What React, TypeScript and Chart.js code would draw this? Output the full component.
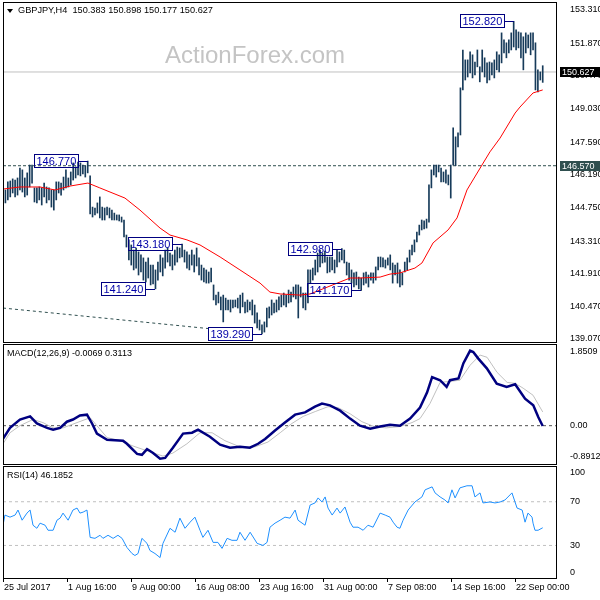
import React, { useEffect, useRef } from 'react';
import { Chart, registerables } from 'chart.js';

Chart.register(...registerables);

const FONT = '"Liberation Sans", Arial, sans-serif';

// ---------------- data ----------------
const HIGH = [
  145.09, 145.52, 145.87, 145.91, 146.00, 145.95, 146.04, 146.47, 146.39, 146.04,
  146.26, 146.60, 146.60, 145.61, 145.61, 145.65, 145.61, 145.82, 145.65, 145.61,
  145.52, 145.52, 145.87, 145.87, 145.82, 146.08, 146.39, 146.04, 146.30, 146.69,
  146.52, 146.73, 146.69, 146.60, 146.56, 146.77, 146.13, 144.78, 144.74, 144.96,
  145.22, 144.78, 144.74, 144.78, 144.74, 144.65, 144.52, 144.44, 144.44, 144.35,
  144.22, 143.57, 143.36, 143.14, 142.92, 143.01, 142.84, 142.71, 142.58, 142.40,
  142.58, 142.27, 142.27, 142.06, 142.40, 142.71, 142.58, 142.92, 143.01, 142.79,
  142.71, 142.92, 143.05, 143.01, 143.18, 142.92, 142.84, 142.71, 142.92, 142.71,
  143.01, 142.58, 142.27, 142.14, 142.06, 141.97, 142.14, 141.41, 140.97, 141.10,
  140.89, 140.97, 140.84, 140.76, 140.76, 140.76, 140.76, 140.84, 140.97, 141.06,
  140.67, 140.76, 140.67, 140.76, 140.54, 140.20, 139.89, 139.68, 139.81, 140.41,
  140.46, 140.76, 140.63, 140.76, 140.89, 140.97, 141.06, 140.97, 141.19, 141.10,
  141.32, 141.41, 141.41, 141.32, 141.06, 141.06, 142.06, 142.06, 142.14, 142.49,
  142.79, 142.92, 142.79, 142.88, 142.62, 142.62, 142.62, 142.49, 142.92, 142.84,
  142.98, 142.92, 142.40, 142.36, 142.06, 141.93, 141.97, 141.75, 141.71, 141.93,
  141.97, 141.84, 141.93, 141.93, 142.19, 142.62, 142.62, 142.58, 142.49, 142.58,
  142.71, 142.36, 142.27, 142.36, 142.06, 141.93, 142.40, 142.58, 142.92, 143.14,
  143.36, 143.70, 144.00, 144.22, 144.18, 144.26, 145.74, 146.39, 146.60, 146.60,
  146.60, 146.47, 146.30, 146.39, 146.17, 146.60, 148.21, 147.82, 147.99, 149.94,
  151.58, 151.15, 151.15, 151.50, 151.37, 151.06, 151.58, 150.85, 151.58, 151.24,
  151.02, 151.06, 151.02, 151.15, 151.50, 151.37, 152.32, 152.02, 151.89, 152.02,
  152.32, 152.82, 152.45, 152.36, 152.32, 152.15, 152.32, 152.23, 152.32, 152.32,
  151.89, 150.72, 150.63, 150.898,
];

const LOW = [
  144.44, 144.96, 145.09, 145.22, 145.39, 145.22, 145.30, 145.52, 145.43, 145.22,
  145.30, 145.65, 145.82, 145.00, 144.96, 145.09, 144.87, 145.22, 144.96, 145.09,
  144.78, 144.65, 145.09, 145.39, 145.30, 145.52, 145.61, 145.65, 145.74, 145.95,
  146.04, 146.17, 146.13, 146.21, 146.08, 146.26, 144.48, 144.35, 144.44, 144.52,
  144.31, 144.22, 144.22, 144.44, 144.31, 144.22, 144.22, 144.22, 144.18, 144.13,
  143.49, 143.05, 142.49, 142.27, 142.06, 142.14, 141.84, 141.97, 141.62, 141.54,
  141.71, 141.41, 141.45, 141.24, 141.62, 141.97, 141.80, 142.14, 142.40, 142.23,
  142.06, 142.27, 142.40, 142.58, 142.62, 142.40, 142.14, 142.06, 142.27, 141.97,
  142.23, 141.84, 141.62, 141.54, 141.49, 141.49, 141.54, 140.76, 140.54, 140.63,
  140.33, 139.81, 140.33, 140.33, 140.24, 140.41, 140.46, 140.41, 140.20, 140.46,
  140.20, 140.24, 140.33, 140.11, 139.76, 139.55, 139.46, 139.29, 139.37, 139.59,
  139.98, 140.11, 140.20, 140.24, 140.33, 140.46, 140.54, 140.46, 140.63, 140.67,
  140.89, 140.80, 139.98, 140.89, 140.41, 140.33, 140.63, 141.49, 141.62, 141.84,
  141.97, 142.19, 142.36, 142.40, 141.93, 141.97, 142.06, 141.93, 142.19, 142.40,
  142.49, 142.36, 141.84, 141.62, 141.49, 141.32, 141.41, 141.24, 141.17, 141.41,
  141.49, 141.32, 141.62, 141.49, 141.62, 142.06, 142.19, 142.19, 142.14, 142.27,
  142.06, 141.49, 141.84, 141.49, 141.32, 141.41, 141.97, 142.06, 142.40, 142.71,
  142.84, 143.27, 143.57, 143.79, 143.83, 143.87, 144.13, 145.61, 146.17, 146.08,
  146.30, 145.87, 145.87, 145.82, 145.74, 145.17, 146.60, 146.57, 147.38, 147.90,
  149.85, 150.28, 150.41, 150.59, 150.37, 150.50, 150.85, 150.20, 150.63, 150.41,
  150.15, 150.28, 150.50, 150.37, 150.72, 150.63, 151.02, 151.45, 151.24, 151.45,
  151.58, 151.71, 151.58, 151.67, 151.24, 150.72, 151.45, 151.67, 151.37, 151.58,
  149.85, 149.76, 150.28, 150.177,
];

// moving average (red), points [bar index, price]
const MA_POINTS = [
  [0, 145.56], [7, 145.65], [15.3, 145.65], [21.5, 145.52], [27.7, 145.69], [35.1, 145.82],
  [40, 145.61], [50.4, 145.17], [56.6, 144.65], [64.9, 143.87], [69, 143.57], [76, 143.36],
  [81.4, 143.14], [89.7, 142.62], [97.9, 142.06], [106.2, 141.49], [110.3, 141.10],
  [114.5, 141.02], [122.7, 140.97], [126.9, 141.02], [131, 141.19], [139.3, 141.54],
  [143.4, 141.71], [147.5, 141.71], [155.8, 141.75], [159.9, 141.88], [164, 141.93],
  [170.2, 142.14], [173.1, 142.36], [177.7, 143.23], [183.9, 143.79], [187.6, 144.31],
  [191.7, 145.52], [197.9, 146.60], [201.2, 147.17], [205.4, 147.77], [211.6, 148.85],
  [213.6, 149.11], [219, 149.72], [223, 149.85],
];

const MACD_POINTS = [
  [0, -0.30], [2.9, -0.05], [7, 0.14], [11.2, 0.21], [14, 0.05], [18.2, -0.05], [20.7, -0.09],
  [23.6, -0.05], [26.4, 0.09], [28.9, 0.14], [31.8, 0.23], [34.7, 0.25], [36.8, 0.05],
  [38.8, -0.18], [43, -0.32], [49.6, -0.34], [51.2, -0.41], [55.4, -0.64], [57.4, -0.66],
  [59.5, -0.53], [62, -0.62], [64.9, -0.75], [67, -0.73], [70.2, -0.50], [74.4, -0.18],
  [78.1, -0.16], [80.6, -0.09], [85.5, -0.25], [89.7, -0.43], [93.8, -0.50], [97.9, -0.48],
  [102, -0.50], [105.4, -0.41], [108.3, -0.30], [112.4, -0.11], [116.5, 0.07], [120.7, 0.25],
  [124.8, 0.30], [128.9, 0.43], [131.8, 0.50], [135.1, 0.46], [139.3, 0.34], [143.4, 0.16],
  [147.5, 0.00], [151.7, -0.07], [155.8, -0.02], [159.9, 0.02], [164, 0.00], [168.2, 0.16],
  [172.3, 0.41], [175.2, 0.75], [177.3, 1.10], [180.6, 1.03], [183.3, 0.88], [184.7, 1.03],
  [188.2, 1.07], [190.2, 1.41], [193, 1.70], [194.3, 1.67], [196.4, 1.52], [199.9, 1.30],
  [204, 0.95], [208.1, 0.88], [211.6, 0.94], [215.7, 0.61], [219.1, 0.46], [221.2, 0.19],
  [223, -0.0069],
];

const SIGNAL_POINTS = [
  [0, -0.41], [2.9, -0.16], [7, 0.00], [12.4, 0.14], [16.5, 0.07], [20.7, -0.05], [24.8, -0.05],
  [30.6, 0.07], [36, 0.18], [38.8, 0.00], [43, -0.27], [48.3, -0.34], [53.7, -0.46],
  [59.5, -0.57], [66.1, -0.69], [70.2, -0.62], [76, -0.41], [81.4, -0.16], [86.4, -0.16],
  [91.7, -0.34], [97.9, -0.48], [104.1, -0.48], [109.5, -0.37], [114.5, -0.16], [119.4, 0.05],
  [124, 0.21], [129, 0.32], [134.3, 0.43], [138.4, 0.41], [143.4, 0.27], [148.3, 0.09],
  [153.3, -0.02], [158.3, -0.05], [164, -0.02], [169, 0.07], [172.3, 0.16], [176.4, 0.50],
  [180.6, 0.98], [188.8, 1.03], [193, 1.37], [197.1, 1.60], [200, 1.55], [204.1, 1.21],
  [208.3, 0.98], [211.6, 0.96], [214.9, 0.85], [219, 0.69], [223, 0.3113],
];

const RSI_POINTS = [
  [0, 48.5], [0.8, 57.8], [2.9, 55.9], [5.0, 57.8], [6.2, 62.4], [7.9, 53.1], [9.9, 59.6],
  [11.2, 62.4], [12.4, 48.5], [14.0, 45.7], [15.3, 50.4], [17.4, 48.5], [18.6, 43.9],
  [20.7, 43.9], [22.3, 53.1], [23.6, 55.0], [24.8, 59.6], [26.9, 53.1], [28.9, 62.4],
  [30.6, 64.2], [31.8, 59.6], [33.1, 60.5], [34.7, 62.4], [36.0, 37.4], [38.0, 36.5],
  [40.1, 39.3], [41.3, 36.5], [43.4, 39.3], [45.5, 36.5], [47.5, 39.3], [49.2, 36.5],
  [51.2, 28.2], [53.3, 22.6], [54.5, 20.8], [55.8, 22.6], [57.4, 36.5], [59.5, 31.9],
  [60.7, 25.4], [62.8, 22.6], [64.9, 18.9], [66.1, 31.9], [69.0, 45.7], [71.1, 42.1],
  [73.1, 55.0], [75.2, 45.7], [77.3, 51.3], [79.3, 55.9], [81.4, 43.9], [82.6, 37.4],
  [84.7, 43.9], [86.8, 32.8], [88.8, 32.8], [90.5, 27.3], [92.6, 36.5], [94.6, 34.7],
  [96.7, 34.7], [97.9, 42.1], [100.0, 34.7], [102.1, 42.1], [105.0, 31.9], [107.4, 30.0],
  [109.1, 32.8], [110.3, 46.7], [112.4, 50.4], [114.5, 53.1], [116.5, 55.9], [118.6, 55.0],
  [120.7, 62.4], [121.9, 53.1], [124.8, 48.5], [126.9, 67.0], [128.9, 68.9], [130.2, 73.5],
  [131.8, 69.8], [133.1, 74.4], [134.3, 64.2], [136.0, 57.8], [138.0, 64.2], [139.3, 59.6],
  [141.3, 65.2], [143.4, 51.3], [144.6, 46.7], [146.7, 46.7], [148.8, 43.9], [150.8, 48.5],
  [152.9, 46.7], [155.8, 59.6], [157.9, 57.8], [159.9, 55.9], [161.2, 51.3], [162.8, 46.7],
  [164.0, 45.7], [165.3, 53.1], [167.4, 62.4], [170.2, 69.8], [173.1, 74.4], [174.4, 80.9],
  [177.3, 83.6], [178.5, 78.1], [180.6, 74.4], [182.6, 71.6], [183.9, 68.9], [185.5, 80.9],
  [186.8, 73.5], [188.8, 82.7], [191.7, 84.6], [193.8, 84.6], [195.0, 74.4], [197.1, 78.1],
  [198.3, 68.9], [201.2, 69.8], [203.3, 68.9], [205.4, 69.8], [207.4, 71.6], [210.3, 78.1],
  [212.4, 64.2], [214.5, 62.4], [215.7, 51.3], [216.9, 59.6], [218.6, 55.9], [219.0, 50.4],
  [219.8, 43.9], [221.1, 43.9], [223, 46.19],
];

// pivot labels
const LABEL_IDX = [35, 63, 74, 107, 140, 148, 211];
const LABEL_PRICE = [146.77, 141.24, 143.18, 139.29, 142.98, 141.17, 152.82];
const LABEL_TEXT = ['146.770', '141.240', '143.180', '139.290', '142.980', '141.170', '152.820'];

// lines
const BID = 150.627;
const LEVEL = 146.57;
const TREND_POINTS = [[0, 140.41], [86, 139.51]];
const TAG_PRICE = [150.627, 146.57];
const TAG_TEXT = ['150.627', '146.570'];
const TAG_COLOR = ['#000000', '#2f4f4f'];

// axes
const X_MIN = 0;
const X_MAX = 228.9;
const X_TICK_POS = [0, 26.45, 52.89, 79.34, 105.79, 132.23, 158.68, 185.12, 211.57];
const X_TICK_LABELS = ['25 Jul 2017', '1 Aug 16:00', '9 Aug 00:00', '16 Aug 08:00', '23 Aug 16:00',
  '31 Aug 00:00', '7 Sep 08:00', '14 Sep 16:00', '22 Sep 00:00'];
const MAIN_MIN = 138.897;
const MAIN_MAX = 153.656;
const MAIN_TICKS = [139.07, 140.47, 141.91, 143.31, 144.75, 146.19, 147.59, 149.03, 150.47, 151.87, 153.31];
const MACD_MIN = -0.8912;
const MACD_MAX = 1.8509;
const MACD_LABEL_POS = [-0.71, 0, 1.67];
const MACD_LABELS = ['-0.8912', '0.00', '1.8509'];
const RSI_MIN = -0.7;
const RSI_MAX = 102.7;
const RSI_LABEL_POS = [4.8, 30, 70, 96.3];
const RSI_LABELS = ['0', '30', '70', '100'];
const RSI_LEVELS = [30, 70];

const BAR_COLOR = '#173b5a';

const pts = (arr: number[][]) => arr.map(([x, y]) => ({ x, y }));
const hline = (v: number) => [{ x: X_MIN, y: v }, { x: X_MAX, y: v }];

const tickFont = { family: FONT, size: 9 };

function xAxis(show: boolean): any {
  const cfg: any = {
    type: 'linear', min: X_MIN, max: X_MAX, offset: false, bounds: 'data',
    display: show,
    afterBuildTicks: (s: any) => { s.ticks = X_TICK_POS.map((v) => ({ value: v })); },
    ticks: {
      autoSkip: false, maxRotation: 0, minRotation: 0, align: 'start', labelOffset: 1, padding: 0,
      color: '#000', font: tickFont, callback: (_v: any, i: number) => X_TICK_LABELS[i],
    },
    grid: { display: true, drawOnChartArea: false, drawTicks: true, tickLength: 3, tickColor: '#000', tickWidth: 1 },
    border: { display: false },
  };
  if (show) {
    cfg.afterFit = (s: any) => { s.height = 21; s.paddingLeft = 0; s.paddingRight = 0; };
  }
  return cfg;
}

function yAxis(min: number, max: number, pos: number[], labels: string[]): any {
  return {
    type: 'linear', position: 'right', min, max, bounds: 'data',
    afterBuildTicks: (s: any) => { s.ticks = pos.map((v) => ({ value: v })); },
    afterFit: (s: any) => { s.width = 43; s.paddingTop = 0; s.paddingBottom = 0; },
    ticks: { autoSkip: false, padding: 5, color: '#000', font: tickFont, callback: (_v: any, i: number) => labels[i] },
    grid: { display: false },
    border: { display: false },
  };
}

const panelBox = {
  id: 'panelBox',
  afterDraw(chart: any) {
    const { ctx, chartArea: a } = chart;
    ctx.save();
    ctx.strokeStyle = '#000';
    ctx.lineWidth = 1;
    ctx.strokeRect(a.left + 0.5, a.top + 0.5, a.right - a.left - 1, a.bottom - a.top - 1);
    ctx.restore();
  },
};

const pivotLabels = {
  id: 'pivotLabels',
  afterDatasetsDraw(chart: any) {
    const { ctx, scales } = chart;
    ctx.save();
    ctx.font = `11px ${FONT}`;
    ctx.textBaseline = 'middle';
    ctx.lineWidth = 1;
    LABEL_IDX.forEach((idx, k) => {
      const px = Math.round(scales.x.getPixelForValue(idx));
      const py = Math.round(scales.y.getPixelForValue(LABEL_PRICE[k]));
      const w = Math.ceil(ctx.measureText(LABEL_TEXT[k]).width) + 4;
      const right = px - 10;
      const left = right - w;
      ctx.strokeStyle = '#000080';
      ctx.strokeRect(left + 0.5, py - 6.5, w, 13);
      ctx.beginPath();
      ctx.moveTo(right, py + 0.5);
      ctx.lineTo(px, py + 0.5);
      ctx.stroke();
      ctx.fillStyle = '#0000a8';
      ctx.fillText(LABEL_TEXT[k], left + 2.5, py + 1);
    });
    ctx.restore();
  },
};

const priceTags = {
  id: 'priceTags',
  afterDraw(chart: any) {
    const { ctx, chartArea: a, scales } = chart;
    ctx.save();
    ctx.font = `9px ${FONT}`;
    ctx.textBaseline = 'middle';
    TAG_PRICE.forEach((p, k) => {
      const py = Math.round(scales.y.getPixelForValue(p));
      ctx.fillStyle = TAG_COLOR[k];
      ctx.fillRect(a.right + 3, py - 5, chart.width - a.right - 3, 10);
      ctx.fillStyle = '#fff';
      ctx.fillText(TAG_TEXT[k], a.right + 5, py + 0.5);
    });
    ctx.restore();
  },
};

const commonPlugins = { legend: { display: false }, tooltip: { enabled: false }, title: { display: false } };

export default function App() {
  const refA = useRef<HTMLCanvasElement>(null);
  const refB = useRef<HTMLCanvasElement>(null);
  const refC = useRef<HTMLCanvasElement>(null);

  useEffect(() => {
    const lineDs = (data: any[], color: string, width: number, order: number, dash?: number[]) => ({
      type: 'line', data, borderColor: color, borderWidth: width, pointRadius: 0, tension: 0,
      fill: false, order, borderDash: dash || [],
    });

    const chartA = new Chart(refA.current as HTMLCanvasElement, {
      type: 'line',
      data: {
        datasets: [
          lineDs(pts(MA_POINTS), '#ff0000', 1, 0),
          {
            type: 'bar', data: HIGH.map((h, i) => ({ x: i, y: [LOW[i], h] })),
            backgroundColor: BAR_COLOR, borderWidth: 0, barThickness: 1, order: 1,
          },
          lineDs(hline(LEVEL), '#2f4f4f', 1, 2, [3, 2]),
          lineDs(pts(TREND_POINTS), '#2f4f4f', 1, 2, [3, 3]),
          lineDs(hline(BID), '#c0c0c0', 1, 3),
        ] as any,
      },
      options: {
        responsive: false, animation: false, events: [],
        layout: { padding: { left: 3, right: 0, top: 2, bottom: 0 } },
        plugins: commonPlugins,
        scales: {
          x: xAxis(false),
          y: yAxis(MAIN_MIN, MAIN_MAX, MAIN_TICKS, MAIN_TICKS.map((v) => v.toFixed(3))),
        },
      } as any,
      plugins: [panelBox, pivotLabels, priceTags],
    });

    const chartB = new Chart(refB.current as HTMLCanvasElement, {
      type: 'line',
      data: {
        datasets: [
          lineDs(pts(MACD_POINTS), '#000080', 2.5, 0),
          lineDs(pts(SIGNAL_POINTS), '#c0c0c0', 1, 1),
          lineDs(hline(0), '#505050', 1, 2, [3, 3]),
        ] as any,
      },
      options: {
        responsive: false, animation: false, events: [],
        layout: { padding: { left: 3, right: 0, top: 1, bottom: 0 } },
        plugins: commonPlugins,
        scales: {
          x: xAxis(false),
          y: yAxis(MACD_MIN, MACD_MAX, MACD_LABEL_POS, MACD_LABELS),
        },
      } as any,
      plugins: [panelBox],
    });

    const chartC = new Chart(refC.current as HTMLCanvasElement, {
      type: 'line',
      data: {
        datasets: [
          lineDs(pts(RSI_POINTS), '#1e90ff', 1, 0),
          ...RSI_LEVELS.map((v) => lineDs(hline(v), '#c0c0c0', 1, 1, [3, 3])),
        ] as any,
      },
      options: {
        responsive: false, animation: false, events: [],
        layout: { padding: { left: 3, right: 0, top: 1, bottom: 0 } },
        plugins: commonPlugins,
        scales: {
          x: xAxis(true),
          y: yAxis(RSI_MIN, RSI_MAX, RSI_LABEL_POS, RSI_LABELS),
        },
      } as any,
      plugins: [panelBox],
    });

    return () => { chartA.destroy(); chartB.destroy(); chartC.destroy(); };
  }, []);

  const textStyle = (left: number, top: number, size: number, color: string): React.CSSProperties => ({
    position: 'absolute', left, top, fontFamily: FONT, fontSize: size, lineHeight: `${Math.round(size * 1.2)}px`,
    color, whiteSpace: 'pre', pointerEvents: 'none',
  });

  return (
    <div style={{ position: 'fixed', left: 0, top: 0, width: 600, height: 600, background: '#fff', overflow: 'hidden' }}>
      <canvas ref={refA} width={600} height={343} style={{ position: 'absolute', left: 0, top: 0 }} />
      <canvas ref={refB} width={600} height={122} style={{ position: 'absolute', left: 0, top: 343 }} />
      <canvas ref={refC} width={600} height={135} style={{ position: 'absolute', left: 0, top: 465 }} />
      <div style={{
        position: 'absolute', left: 7, top: 9, width: 0, height: 0,
        borderLeft: '3px solid transparent', borderRight: '3px solid transparent', borderTop: '4px solid #000',
      }} />
      <div style={textStyle(18, 5, 9.2, '#000')}>GBPJPY,H4  150.383 150.898 150.177 150.627</div>
      <div style={textStyle(165, 40, 24, '#c4c4c4')}>ActionForex.com</div>
      <div style={textStyle(7, 348, 9, '#000')}>MACD(12,26,9) -0.0069 0.3113</div>
      <div style={textStyle(7, 470, 9, '#000')}>RSI(14) 46.1852</div>
    </div>
  );
}
